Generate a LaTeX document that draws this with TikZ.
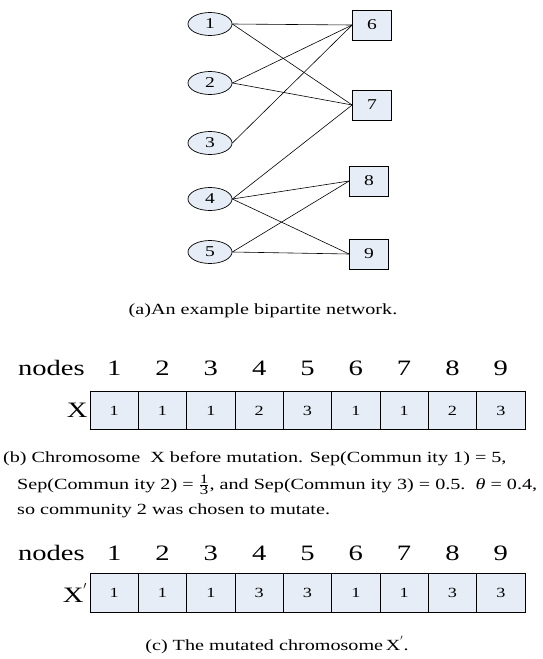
\documentclass[tikz,border=0pt]{standalone}
\usepackage{fontspec}
\setmainfont[FakeStretch=1.3]{Liberation Serif}
\usetikzlibrary{shapes.geometric}
\definecolor{cellfill}{RGB}{231,237,247}
\newcommand{\fracdigit}[1]{\mbox{\fontsize{13}{13}\selectfont #1}}
\begin{document}
\begin{tikzpicture}[x=1pt,y=-1pt,
  comm/.style={ellipse, draw, fill=cellfill, line width=0.7pt,
    minimum width=44pt, minimum height=23pt, inner sep=0pt,
    font=\fontsize{15}{15}\selectfont},
  partbox/.style={rectangle, draw, fill=cellfill, line width=0.7pt,
    minimum width=39pt, minimum height=30pt, inner sep=0pt,
    font=\fontsize{15}{15}\selectfont},
  gene/.style={rectangle, draw, fill=cellfill, line width=0.7pt,
    minimum width=48.33pt, minimum height=38.5pt, inner sep=0pt,
    font=\fontsize{14}{14}\selectfont},
  lab/.style={inner sep=0pt, font=\fontsize{22}{22}\selectfont},
  captxt/.style={inner sep=0pt, font=\fontsize{15.5}{15.5}\selectfont},
  link/.style={line width=0.6pt}]
\useasboundingbox (0,0) rectangle (543,659);

% bipartite network: communities on the left, partners on the right
\node[comm] (c1) at (210,24) {1};
\node[comm] (c2) at (210,83) {2};
\node[comm] (c3) at (210,143) {3};
\node[comm] (c4) at (210,199) {4};
\node[comm] (c5) at (210,252) {5};
\node[partbox] (p6) at (372,25) {6};
\node[partbox] (p7) at (372,105) {7};
\node[partbox] (p8) at (369,181) {8};
\node[partbox] (p9) at (369,254) {9};
\foreach \a/\b in {c1/p6,c1/p7,c2/p6,c2/p7,c3/p6,c4/p7,c4/p8,c4/p9,c5/p8,c5/p9}
  \draw[link] (\a.east) -- (\b.west);

\node[captxt, anchor=base] (capa) at (263,314) {(a)An example bipartite network.};

% chromosome X before mutation
\node[lab, anchor=base east] (nodesA) at (85,375) {nodes};
\foreach \v [count=\k] in {1,1,1,2,3,1,1,2,3} {
  \node[gene] (g\k) at ({90+48.33*(\k-0.5)},410.5) {\v};
  \node[lab, anchor=base] (na\k) at ({90+48.33*(\k-0.5)},375) {\k};
}
\node[lab, anchor=east, inner sep=2pt] (xa) at (g1.west) {X};

\node[captxt, anchor=base west] (capb1) at (3,462)
  {(b) Chromosome\ \ X before mutation. Sep(Commun ity 1) = 5,};
\node[captxt, anchor=base west] (capb2) at (17,489)
  {Sep(Commun ity 2) = $\frac{\fracdigit{1}}{\fracdigit{3}}$, and Sep(Commun ity 3) = 0.5.\ \ \textit{θ} = 0.4,};
\node[captxt, anchor=base west] (capb3) at (17,514)
  {so community 2 was chosen to mutate.};

% chromosome X' after mutation
\node[lab, anchor=base east] (nodesB) at (85,560) {nodes};
\foreach \v [count=\k] in {1,1,1,3,3,1,1,3,3} {
  \node[gene] (h\k) at ({90+48.33*(\k-0.5)},593) {\v};
  \node[lab, anchor=base] (nb\k) at ({90+48.33*(\k-0.5)},560) {\k};
}
\node[lab, anchor=east, inner sep=2pt] (xb) at (h1.west) {X$^{'}$};

\node[captxt, anchor=base] (capc) at (277,650) {(c) The mutated chromosome\,X$^{'}$.};
\end{tikzpicture}
\end{document}
